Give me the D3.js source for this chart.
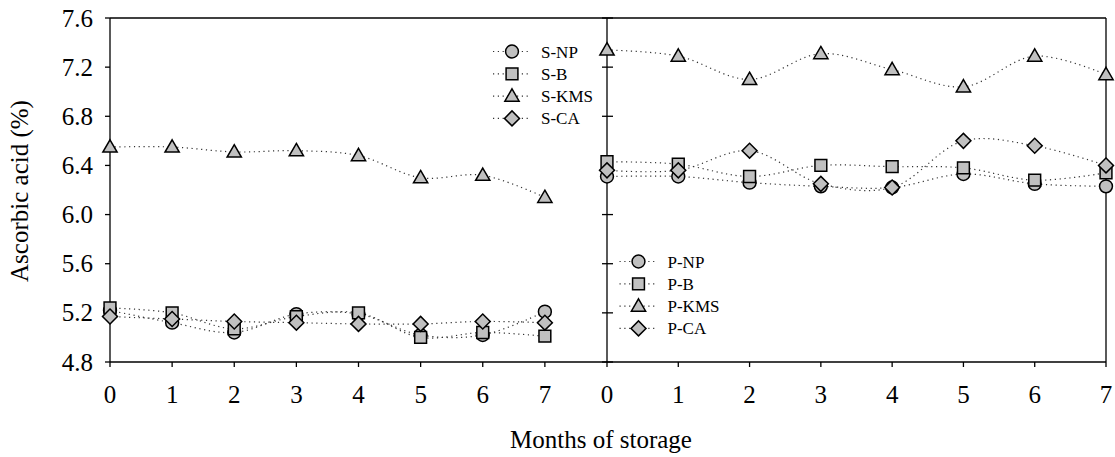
<!DOCTYPE html>
<html>
<head>
<meta charset="utf-8">
<script src="https://cdn.jsdelivr.net/npm/d3@7"></script>
<style>
  body { margin: 0; background: #fff; }
  text { font-family: "Liberation Serif", "Times New Roman", serif; fill: #000; }
</style>
</head>
<body>
<div id="chart"></div>
<script>
// months on x axis
var months = [0, 1, 2, 3, 4, 5, 6, 7];
var yTicks = [4.8, 5.2, 5.6, 6.0, 6.4, 6.8, 7.2, 7.6];

// left panel (S-) series
var sNP  = [5.22, 5.12, 5.04, 5.19, 5.19, 5.02, 5.02, 5.21];
var sB   = [5.24, 5.20, 5.07, 5.17, 5.20, 5.00, 5.04, 5.01];
var sKMS = [6.55, 6.55, 6.51, 6.52, 6.48, 6.30, 6.32, 6.14];
var sCA  = [5.17, 5.15, 5.13, 5.12, 5.11, 5.11, 5.13, 5.12];

// right panel (P-) series
var pNP  = [6.31, 6.31, 6.26, 6.23, 6.22, 6.33, 6.25, 6.23];
var pB   = [6.43, 6.41, 6.31, 6.40, 6.39, 6.38, 6.28, 6.34];
var pKMS = [7.34, 7.29, 7.10, 7.31, 7.18, 7.04, 7.29, 7.14];
var pCA  = [6.36, 6.36, 6.52, 6.25, 6.22, 6.60, 6.56, 6.40];

var shapes = ["circle", "square", "triangle", "diamond"];
var sNames = ["S-NP", "S-B", "S-KMS", "S-CA"];
var pNames = ["P-NP", "P-B", "P-KMS", "P-CA"];

var width = 1115, height = 457;
var plotTop = 18, plotBottom = 362;
var leftX0 = 110, midX = 607, rightX1 = 1106;

var svg = d3.select("#chart").append("svg")
  .attr("width", width)
  .attr("height", height);

var y = d3.scaleLinear().domain([4.8, 7.6]).range([plotBottom, plotTop]);
var xL = d3.scaleLinear().domain([0, 8]).range([leftX0, midX]);
var xR = d3.scaleLinear().domain([0, 7]).range([midX, rightX1]);

function symbolPath(shape) {
  var s = {
    circle: d3.symbol().type(d3.symbolCircle).size(130),
    square: d3.symbol().type(d3.symbolSquare).size(140),
    triangle: d3.symbol().type(d3.symbolTriangle).size(88),
    diamond: d3.symbol().type(d3.symbolSquare).size(112)
  };
  return s[shape]();
}

function drawMarker(g, shape, cx, cy) {
  g.append("path")
    .attr("d", symbolPath(shape))
    .attr("transform", "translate(" + cx + "," + cy + ")" + (shape == "diamond" ? " rotate(45)" : "") +
      (shape == "triangle" ? " translate(0,1)" : ""))
    .attr("fill", "#c0c0c0")
    .attr("stroke", "#000")
    .attr("stroke-width", 1.5);
}

function drawSeries(x, series) {
  var g = svg.append("g");
  var line = d3.line()
    .x(function(d, i){ return x(months[i]); })
    .y(function(d){ return y(d); })
    .curve(d3.curveCatmullRom.alpha(0.5));

  series.forEach(function(s){
    g.append("path")
      .datum(s)
      .attr("d", line)
      .attr("fill", "none")
      .attr("stroke", "#333")
      .attr("stroke-width", 1.2)
      .attr("stroke-dasharray", "1.2,3.6");
  });
  series.forEach(function(s, k){
    s.forEach(function(v, i){
      drawMarker(g, shapes[k], x(months[i]), y(v));
    });
  });
}

// frame
var frame = svg.append("g").attr("stroke", "#000").attr("stroke-width", 1.3);
frame.append("line").attr("x1", leftX0).attr("x2", rightX1).attr("y1", plotTop).attr("y2", plotTop);
frame.append("line").attr("x1", leftX0).attr("x2", rightX1).attr("y1", plotBottom).attr("y2", plotBottom);
frame.append("line").attr("x1", leftX0).attr("x2", leftX0).attr("y1", plotTop).attr("y2", plotBottom);
frame.append("line").attr("x1", midX).attr("x2", midX).attr("y1", plotTop).attr("y2", plotBottom);
frame.append("line").attr("x1", rightX1).attr("x2", rightX1).attr("y1", plotTop).attr("y2", plotBottom);

// y ticks: left outward, middle crossing
yTicks.forEach(function(t){
  frame.append("line").attr("x1", leftX0 - 5).attr("x2", leftX0).attr("y1", y(t)).attr("y2", y(t));
  frame.append("line").attr("x1", midX - 5).attr("x2", midX + 6).attr("y1", y(t)).attr("y2", y(t));
  svg.append("text")
    .attr("x", 93).attr("y", y(t) + 8.5)
    .attr("text-anchor", "end")
    .attr("font-size", 25)
    .text(d3.format(".1f")(t));
});

// x ticks
months.forEach(function(m){
  [xL, xR].forEach(function(x){
    frame.append("line").attr("x1", x(m)).attr("x2", x(m)).attr("y1", plotBottom).attr("y2", plotBottom + 5);
    svg.append("text")
      .attr("x", x(m)).attr("y", 403)
      .attr("text-anchor", "middle")
      .attr("font-size", 25)
      .text(m);
  });
});

drawSeries(xL, [sNP, sB, sKMS, sCA]);
drawSeries(xR, [pNP, pB, pKMS, pCA]);

// legends
function drawLegend(x0, y0, names) {
  var g = svg.append("g");
  names.forEach(function(n, k){
    var yy = y0 + k * 22.3;
    g.append("line")
      .attr("x1", x0 - 19).attr("x2", x0 + 17)
      .attr("y1", yy).attr("y2", yy)
      .attr("stroke", "#333").attr("stroke-width", 1.2)
      .attr("stroke-dasharray", "1.2,3.6");
    drawMarker(g, shapes[k], x0, yy);
    g.append("text")
      .attr("x", x0 + 29).attr("y", yy + 6)
      .attr("font-size", 17)
      .text(n);
  });
}
drawLegend(512, 51.5, sNames);
drawLegend(638.5, 261.5, pNames);

// axis titles
svg.append("text")
  .attr("transform", "translate(28,191) rotate(-90)")
  .attr("text-anchor", "middle")
  .attr("font-size", 25)
  .text("Ascorbic acid (%)");

svg.append("text")
  .attr("x", 601).attr("y", 448)
  .attr("text-anchor", "middle")
  .attr("font-size", 25)
  .text("Months of storage");
</script>
</body>
</html>
